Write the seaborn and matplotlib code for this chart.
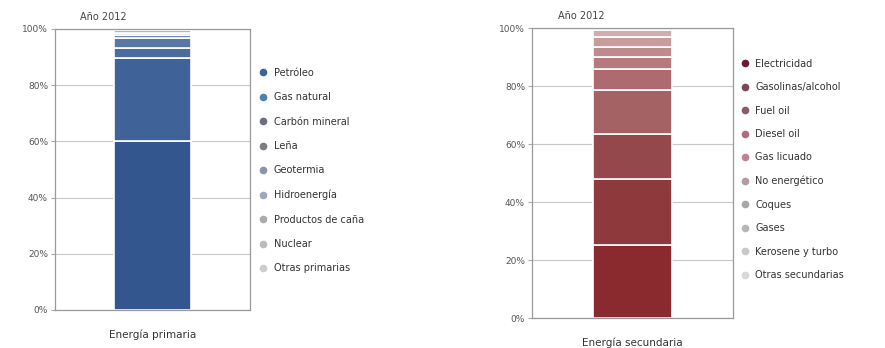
import pandas as pd
import seaborn as sns
import matplotlib.pyplot as plt
from matplotlib.lines import Line2D

# Primary energy shares (%), bottom to top
prim_labels = ["Petróleo", "Gas natural", "Carbón mineral", "Leña", "Geotermia",
               "Hidroenergía", "Productos de caña", "Nuclear", "Otras primarias"]
prim_values = [60.3, 29.3, 3.7, 3.4, 1.0, 1.0, 0.8, 0.3, 0.2]
prim_bar_colors = ["#33568f", "#3f6298", "#4d6c9e", "#5877a5", "#7088b0",
                   "#8d9fc0", "#a9b6cf", "#c2cbdd", "#d8dde8"]
prim_leg_colors = ["#3b6890", "#4d82ad", "#6b6e80", "#7c7c82", "#8a94ad",
                   "#a0a7ba", "#ababab", "#bcbcbc", "#cdcdcd"]

# Secondary energy shares (%), bottom to top
sec_labels = ["Electricidad", "Gasolinas/alcohol", "Fuel oil", "Diesel oil", "Gas licuado",
              "No energético", "Coques", "Gases", "Kerosene y turbo", "Otras secundarias"]
sec_values = [25.2, 22.7, 15.4, 15.3, 7.3, 4.0, 3.7, 3.4, 2.3, 0.7]
sec_bar_colors = ["#8a2a2e", "#8e3a3d", "#95484b", "#a46264", "#ad6b70",
                  "#b47a7e", "#bd8a8e", "#c69c9f", "#d0aeb0", "#dcc2c4"]
sec_leg_colors = ["#6e1a32", "#7e4656", "#8a5a68", "#b06a82", "#c0809a",
                  "#b39aa6", "#a8a8a8", "#b6b6b6", "#c8c8c8", "#d8d8d8"]

year_title = "Año 2012"
y_ticks = [0, 20, 40, 60, 80, 100]

plt.rcParams["font.family"] = ["DejaVu Sans"]
fig = plt.figure(figsize=(8.85, 3.48), dpi=100)

ax1 = fig.add_axes([0.0621, 0.1092, 0.2203, 0.8075])
ax2 = fig.add_axes([0.6011, 0.0862, 0.2271, 0.8333])


def draw_stack(ax, category, labels, values, colors):
    df = pd.DataFrame({"cat": [category] * len(labels), "fuente": labels, "share": values})
    # histplot stacks the first hue level on top, so feed the order reversed
    sns.histplot(data=df, x="cat", weights="share", hue="fuente",
                 hue_order=labels[::-1], palette=colors[::-1],
                 multiple="stack", discrete=True, shrink=0.395,
                 alpha=1, edgecolor="white", linewidth=1.2,
                 legend=False, ax=ax)
    ax.set_xlim(-0.5, 0.5)
    ax.set_ylim(0, 100)
    ax.set_yticks(y_ticks)
    ax.set_yticklabels([f"{t}%" for t in y_ticks], fontsize=6.5, color="#555555")
    ax.set_xticks([0])
    ax.set_xticklabels([category], fontsize=7.5, color="#333333")
    ax.tick_params(axis="x", length=0, pad=14)
    ax.tick_params(axis="y", length=3, color="#aaaaaa", pad=2)
    ax.set_xlabel("")
    ax.set_ylabel("")
    ax.grid(axis="y", color="#c8c8c8", linewidth=0.8)
    ax.set_axisbelow(True)
    for s in ax.spines.values():
        s.set_color("#9a9a9a")
        s.set_linewidth(0.9)
    ax.text(0.13, 1.025, year_title, transform=ax.transAxes, fontsize=7,
            color="#444444", ha="left", va="bottom")


draw_stack(ax1, "Energía primaria", prim_labels, prim_values, prim_bar_colors)
draw_stack(ax2, "Energía secundaria", sec_labels, sec_values, sec_bar_colors)


def add_legend(labels, colors, anchor, spacing):
    handles = [Line2D([], [], marker="o", linestyle="", markersize=4.5,
                      markerfacecolor=c, markeredgecolor=c) for c in colors]
    leg = fig.legend(handles, labels, loc="upper left", bbox_to_anchor=anchor,
                     frameon=False, fontsize=7, handlelength=1.0, handletextpad=0.6,
                     labelspacing=spacing, borderpad=0, borderaxespad=0)
    for t in leg.get_texts():
        t.set_color("#333333")


add_legend(prim_labels, prim_leg_colors, (0.2915, 0.805), 1.48)
add_legend(sec_labels, sec_leg_colors, (0.836, 0.831), 1.38)

fig.savefig("out.png", dpi=100)
